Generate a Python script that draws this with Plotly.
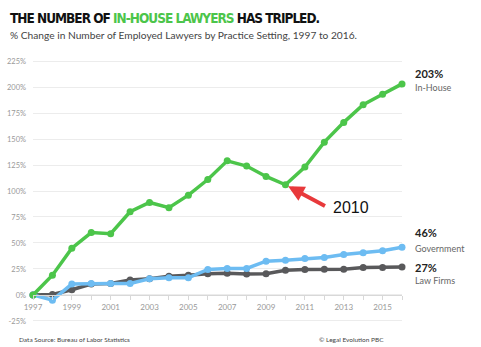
import plotly.graph_objects as go

years = list(range(1997, 2017))
in_house = [0, 19, 45, 60, 59, 80, 89, 84, 96, 111, 129, 124, 114, 106, 123, 147, 166, 183, 193, 203]
government = [0, -5, 10.5, 11, 11, 11, 15.5, 16.5, 16.5, 24.5, 25.5, 25.5, 32.5, 33.5, 35, 36, 39, 40.5, 42.5, 46]
law_firms = [0, 0.5, 5, 10.5, 11, 14.5, 15.5, 18, 19, 20.5, 20.8, 20.2, 20.5, 23.7, 24.4, 24.7, 24.7, 26.3, 26.3, 27]
y_ticks = [-25, 0, 25, 50, 75, 100, 125, 150, 175, 200, 225]
x_tick_text = [str(y) if (y - 1997) % 2 == 0 else "" for y in years]

GREEN = "#4cc54a"
BLUE = "#6dbcf2"
GRAY = "#59595b"

fig = go.Figure()
for name, vals, col in [("Law Firms", law_firms, GRAY), ("Government", government, BLUE), ("In-House", in_house, GREEN)]:
    fig.add_trace(go.Scatter(x=years, y=vals, mode="lines+markers", name=name,
                             line=dict(color=col, width=3.5), marker=dict(color=col, size=7),
                             cliponaxis=False, showlegend=False))

ymin, ymax = -26, 226
L, R, T, B = 33, 79, 60, 25
fig.update_layout(
    width=481, height=347,
    margin=dict(l=L, r=R, t=T, b=B, autoexpand=False),
    plot_bgcolor="white", paper_bgcolor="white",
    font=dict(family="Lato, Open Sans, sans-serif", color="#888"),
    xaxis=dict(range=[1997, 2016], tickmode="array", tickvals=years, ticktext=x_tick_text,
               showgrid=False, zeroline=False, showline=True, linecolor="#d8d8d8", linewidth=1,
               ticks="outside", ticklen=4, tickcolor="#d8d8d8", anchor="free", automargin=False,
               position=(0 - ymin) / (ymax - ymin), tickfont=dict(size=8, color="#999")),
    yaxis=dict(range=[ymin, ymax], tickvals=y_ticks, ticktext=[f"{v}%" for v in y_ticks],
               showgrid=True, gridcolor="#ececec", gridwidth=1.2, zeroline=False, automargin=False,
               ticks="", ticklabelstandoff=6, tickfont=dict(size=7.5, color="#999")),
)

def px_to_paper_x(px):
    return (px - L) / (481 - L - R)

def px_to_paper_y(py):
    top, bottom = T, 347 - B
    return (bottom - py) / (bottom - top)

ann = []
ann.append(dict(xref="paper", yref="paper", x=px_to_paper_x(8), y=px_to_paper_y(18),
                xanchor="left", yanchor="middle", showarrow=False,
                text="<span style='letter-spacing:-1px'>THE NUMBER OF <span style='color:%s'>IN-HOUSE LAWYERS</span> HAS TRIPLED.</span>" % GREEN,
                font=dict(family="DejaVu Sans Condensed, DejaVu Sans, sans-serif", size=13.5,
                          color="#111", weight="bold")))
ann.append(dict(xref="paper", yref="paper", x=px_to_paper_x(8), y=px_to_paper_y(35),
                xanchor="left", yanchor="middle", showarrow=False,
                text="% Change in Number of Employed Lawyers by Practice Setting, 1997 to 2016.",
                font=dict(family="Lato, sans-serif", size=10.2, color="#444")))
# end labels
for val, lab, py1, py2 in [(in_house[-1], "In-House", 73, 87), (government[-1], "Government", 233, 248), (law_firms[-1], "Law Firms", 267, 280)]:
    ann.append(dict(xref="paper", yref="paper", x=px_to_paper_x(413), y=px_to_paper_y(py1),
                    xanchor="left", yanchor="middle", showarrow=False, text=f"<b>{round(val)}%</b>",
                    font=dict(family="Lato, sans-serif", size=11, color="#222")))
    ann.append(dict(xref="paper", yref="paper", x=px_to_paper_x(413), y=px_to_paper_y(py2),
                    xanchor="left", yanchor="middle", showarrow=False, text=lab,
                    font=dict(family="Lato, sans-serif", size=9, color="#666")))
# arrow to 2010
ann.append(dict(x=2010, y=in_house[years.index(2010)], xref="x", yref="y", text="",
                showarrow=True, ax=41, ay=22, arrowcolor="#e8393b", arrowwidth=4,
                arrowhead=2, arrowsize=0.8, standoff=3))
ann.append(dict(xref="paper", yref="paper", x=px_to_paper_x(331), y=px_to_paper_y(207),
                xanchor="left", yanchor="middle", showarrow=False, text="2010",
                font=dict(family="Liberation Sans, sans-serif", size=16, color="#111")))
# footer
ann.append(dict(xref="paper", yref="paper", x=px_to_paper_x(17), y=px_to_paper_y(339),
                xanchor="left", yanchor="middle", showarrow=False,
                text="Data Source: Bureau of Labor Statistics",
                font=dict(family="Lato, sans-serif", size=6.5, color="#444")))
ann.append(dict(xref="paper", yref="paper", x=px_to_paper_x(386), y=px_to_paper_y(339),
                xanchor="right", yanchor="middle", showarrow=False,
                text="© Legal Evolution PBC",
                font=dict(family="Lato, sans-serif", size=6.5, color="#444")))
fig.update_layout(annotations=ann)

fig.write_html("out.html")
